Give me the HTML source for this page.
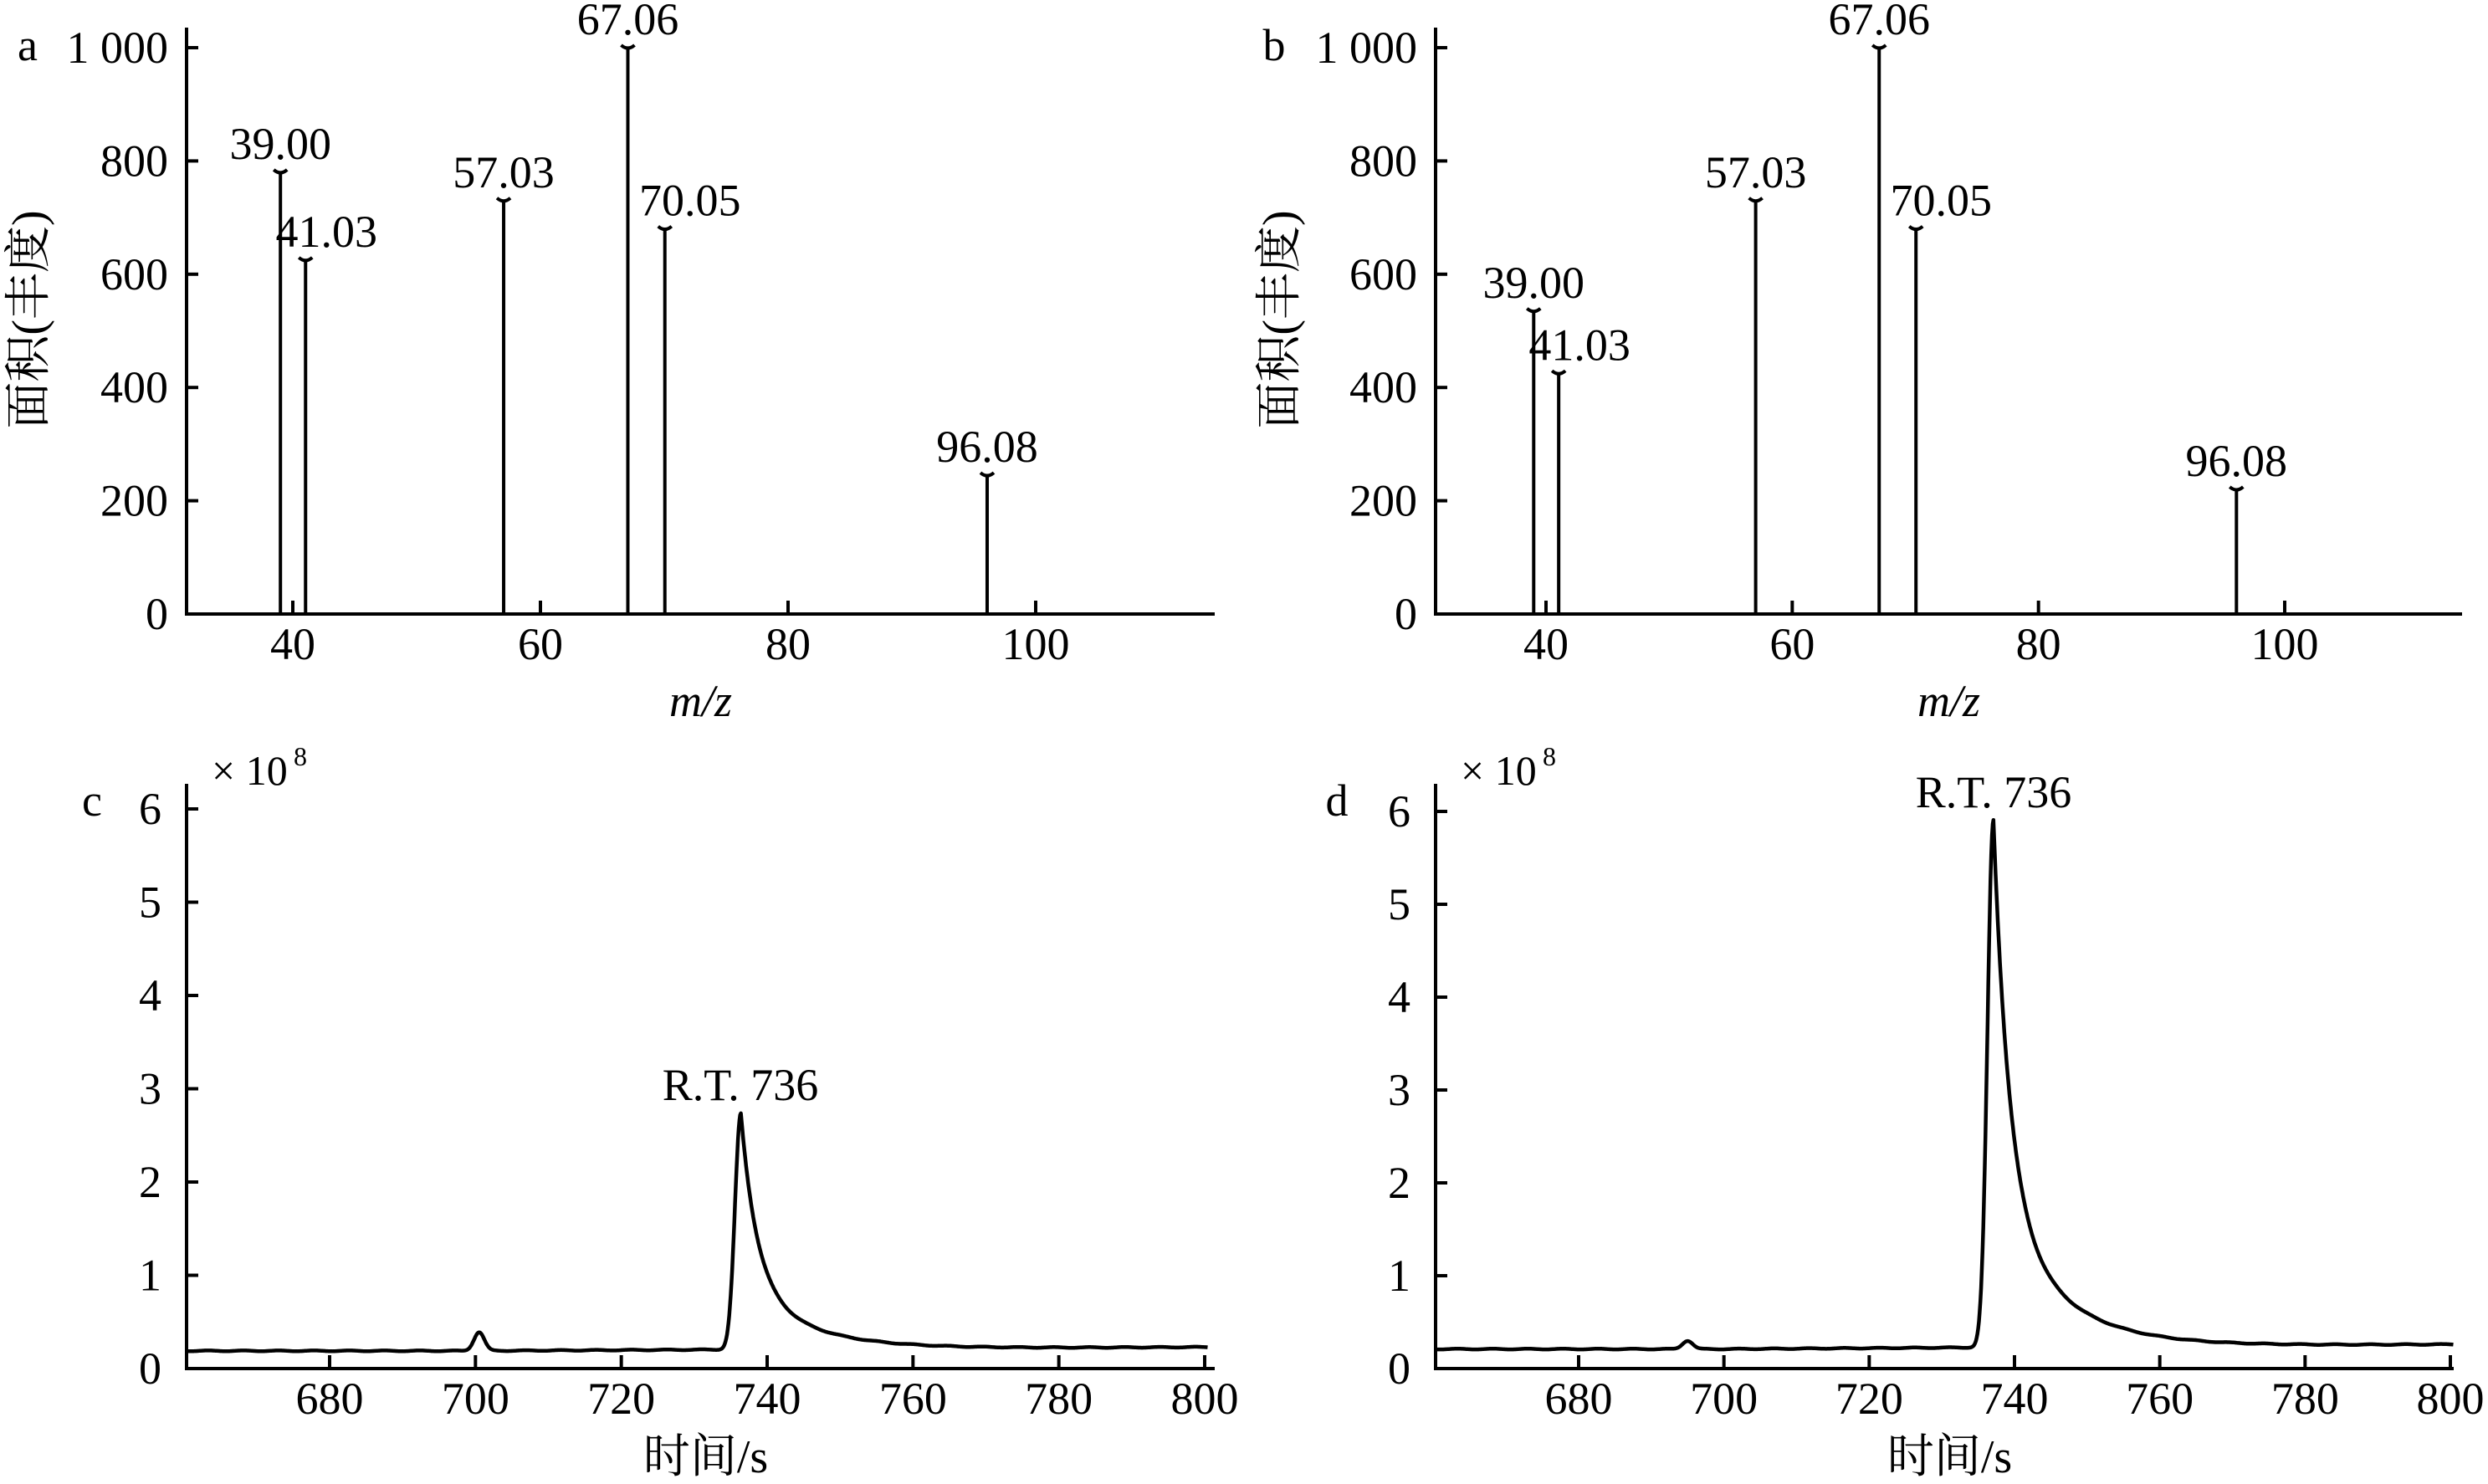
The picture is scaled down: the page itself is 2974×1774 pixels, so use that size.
<!DOCTYPE html>
<html><head><meta charset="utf-8"><style>
html,body{margin:0;padding:0;background:#fff;}
svg{display:block;}
text{font-family:"Liberation Serif","Noto Serif CJK SC",serif;fill:#000;}
</style></head><body>
<svg id="s" width="2974" height="1774" viewBox="0 0 2974 1774" xmlns="http://www.w3.org/2000/svg"></svg>
<script>
const S=document.getElementById('s');let h='';
function L(x1,y1,x2,y2,w){h+=`<line x1="${x1}" y1="${y1}" x2="${x2}" y2="${y2}" stroke="#000" stroke-width="${w||4}"/>`;}
function T(x,y,t,a,fs,extra){h+=`<text x="${x}" y="${y}" font-size="${fs||54}" text-anchor="${a||'middle'}" ${extra||''}>${t}</text>`;}
function ms(ax,x40,x100,end,label,lx,ylx,peaks){
 const y0=734,y1000=57;const X=v=>x40+(v-40)*(x100-x40)/60;const Y=v=>y0+(v)*(y1000-y0)/1000;
 L(ax,33,ax,y0+2);L(ax-2,y0,end,y0);
 for(let v=0;v<=1000;v+=200){L(ax,Y(v),ax+14,Y(v));T(ax-22,Y(v)+18,v==1000?'1 000':v,'end');}
 for(let v=40;v<=100;v+=20){L(X(v),y0,X(v),y0-16);T(X(v),y0+54,v);}
 T((ax+end)/2,y0+122,'m/z','middle',54,'font-style="italic"');
 T(lx,72,label,'middle',54);
 h+=`<text x="0" y="0" font-size="56" text-anchor="middle" transform="translate(${ylx+20},382) rotate(-90)">面积(丰度)</text>`;
 for(const p of peaks){const x=X(p[0]),y=Y(p[1]);L(x,y0,x,y,4);
  h+=`<path d="M${x-8} ${y-3} Q${x} ${y+4} ${x+8} ${y-3}" stroke="#000" stroke-width="4" fill="none"/>`;
  T(x+(p[2]||0),y-16,p[0].toFixed(2));}
}
ms(223,350,1238,1452,'a',33,33,[[39,780],[41.03,625,25],[57.03,730],[67.06,1000],[70.05,680,30],[96.08,245]]);
ms(1716,1848,2731,2943,'b',1523,1528,[[39,535],[41.03,425,25],[57.03,730],[67.06,1000],[70.05,680,30],[96.08,220]]);
function ch(ax,x680,x800,end,top6,label,lx,base,bumpT,bumpA,tp,A,rtx,rty,slope){
 const y0=1636;const X=t=>x680+(t-680)*(x800-x680)/120;const Y=v=>y0+v*(top6-y0)/6;
 L(ax,937,ax,y0+2);L(ax-2,y0,end,y0);
 for(let v=0;v<=6;v++){L(ax,Y(v),ax+14,Y(v));T(ax-30,Y(v)+18,v,'end');}
 for(let t=680;t<=800;t+=20){L(X(t),y0,X(t),y0-16);T(X(t),y0+54,t);}
 T((ax+end)/2+6,1760,'时间/s','middle',56);
 T(lx,975,label,'middle',54);
 T(ax+30,938,'× 10','start',50);T(ax+128,915,'8','start',32);
 T(rtx,rty,'R.T. 736','middle',54);
 let d='';const t0=660.5;
 for(let t=t0;t<=800.5;t+=0.1){
  let v=base+slope*Math.max(0,t-700);
  v+=bumpA*Math.exp(-Math.pow((t-bumpT)/1.0,2));
  let dt=t-tp;
  if(dt<0)v+=A*Math.exp(-Math.pow(dt/1.15,2));
  else v+=A*(0.72*Math.exp(-dt/2.2)+0.28*Math.exp(-dt/8.5));
  v+=0.004*Math.sin(t*1.3);
  d+=(d?'L':'M')+X(t).toFixed(1)+' '+Y(v).toFixed(1);
 }
 h+=`<path d="${d}" stroke="#000" stroke-width="4.5" fill="none" stroke-linejoin="round"/>`;
}
ch(223,394,1440,1452,967,'c',110,0.19,700.5,0.2,736.4,2.53,885,1315,0.0004);
ch(1716,1887,2929,2933,970,'d',1598,0.21,695,0.09,737.1,5.68,2383,965,0.0005);
S.innerHTML=h;
</script>
</body></html>
